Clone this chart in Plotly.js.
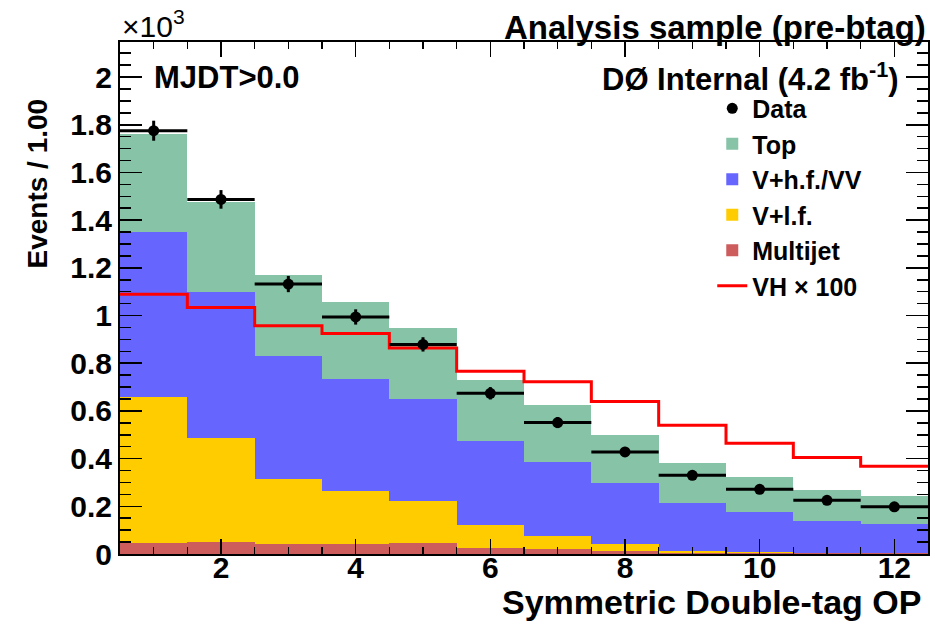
<!DOCTYPE html>
<html>
<head>
<meta charset="utf-8">
<script src="https://cdn.plot.ly/plotly-3.0.1.min.js"></script>
<style>html,body{margin:0;padding:0;background:#fff;}#chart{width:946px;height:622px;}</style>
</head>
<body>
<div id="chart"></div>
<script>
// ---- data (events per bin) ----
const binCenters = [1, 2, 3, 4, 5, 6, 7, 8, 9, 10, 11, 12];
const dataCounts = [1775, 1487, 1132, 994, 879, 674, 551, 428, 330, 271, 225, 198];
const dataErrors = [42, 39, 34, 32, 30, 26, 23, 21, 18, 16, 15, 14];
const multijet   = [45, 50, 40, 42, 46, 24, 20, 13, 6, 4, 3, 3];
const vlf        = [615, 435, 274, 222, 175, 98, 55, 27, 8, 4, 3, 2];
const vhfvv      = [691, 612, 516, 470, 429, 352, 311, 256, 199, 169, 132, 122];
const topBkg     = [410, 379, 340, 324, 299, 256, 239, 202, 170, 146, 130, 115];
const vhx100     = [1089, 1034, 957, 925, 864, 766, 722, 639, 540, 464, 405, 368];

const k = v => v / 1000;  // axis is in units of 10^3
const FONT = "Liberation Sans, Arial, Helvetica, sans-serif";

function barTrace(name, vals, color, rank) {
  return {
    type: 'bar', name: name, x: binCenters, y: vals.map(k), width: 1,
    marker: {color: color, line: {width: 0}},
    legendrank: rank, hoverinfo: 'skip'
  };
}

const binWidth = binCenters[1] - binCenters[0];
const edgesX = binCenters.map(c => c - binWidth / 2).concat([binCenters[binCenters.length - 1] + binWidth / 2]);
const stepY = vhx100.map(k).concat([k(vhx100[vhx100.length - 1])]);

const traces = [
  barTrace('Multijet', multijet, 'rgb(205,92,92)', 5),
  barTrace('V+l.f.', vlf, 'rgb(255,204,0)', 4),
  barTrace('V+h.f./VV', vhfvv, 'rgb(102,102,255)', 3),
  barTrace('Top', topBkg, 'rgb(134,195,167)', 2),
  {
    type: 'scatter', mode: 'lines', name: 'VH \u00d7 100', x: edgesX, y: stepY,
    line: {shape: 'hv', color: 'rgb(255,0,0)', width: 3},
    legendrank: 6, hoverinfo: 'skip'
  },
  {
    type: 'scatter', mode: 'markers', name: 'Data', x: binCenters, y: dataCounts.map(k),
    marker: {color: 'black', size: 11},
    error_y: {type: 'data', array: dataErrors.map(k), color: 'black', thickness: 3, width: 0},
    error_x: {type: 'constant', value: binWidth / 2, color: 'black', thickness: 3, width: 0},
    legendrank: 1, hoverinfo: 'skip'
  }
];

const layout = {
  width: 946, height: 622,
  margin: {l: 120, r: 18, t: 42, b: 68},
  paper_bgcolor: 'white', plot_bgcolor: 'white',
  barmode: 'stack', bargap: 0,
  font: {family: FONT, size: 24, color: 'black', weight: 'bold'},
  showlegend: true,
  legend: {
    x: 0.733, y: 0.915, xanchor: 'left', yanchor: 'top',
    bgcolor: 'rgba(0,0,0,0)', borderwidth: 0,
    font: {family: FONT, size: 25, color: 'black', weight: 'bold'},
    traceorder: 'normal', itemwidth: 30
  },
  xaxis: {
    range: [0.5, 12.5], dtick: 2, tick0: 0,
    ticks: 'inside', ticklen: 15, tickwidth: 1.5, tickcolor: 'black',
    minor: {dtick: 0.5, ticks: 'inside', ticklen: 7, tickwidth: 1.5, tickcolor: 'black', showgrid: false},
    showline: true, linecolor: 'black', linewidth: 2, mirror: 'allticks',
    showgrid: false, zeroline: false,
    ticklabelposition: 'outside', ticklabelstandoff: -14,
    tickfont: {family: FONT, size: 30, color: 'black', weight: 'bold'}
  },
  yaxis: {
    range: [0, 2.147], dtick: 0.2, tick0: 0,
    ticks: 'inside', ticklen: 22, tickwidth: 1.5, tickcolor: 'black',
    minor: {dtick: 0.05, ticks: 'inside', ticklen: 11, tickwidth: 1.5, tickcolor: 'black', showgrid: false},
    showline: true, linecolor: 'black', linewidth: 2, mirror: 'allticks',
    showgrid: false, zeroline: false,
    tickfont: {family: FONT, size: 30, color: 'black', weight: 'bold'}
  },
  annotations: [
    {xref: 'paper', yref: 'paper', x: 1.0, y: 1.029, xanchor: 'right', yanchor: 'middle',
     text: 'Analysis sample (pre-btag)', showarrow: false,
     font: {family: FONT, size: 33, color: 'black', weight: 'bold'}},
    {xref: 'paper', yref: 'paper', x: 0.0, y: 1.0, xanchor: 'left', yanchor: 'bottom', yshift: -3,
     text: '\u00d710<sup>3</sup>', showarrow: false,
     font: {family: FONT, size: 30, color: 'black', weight: 'normal'}},
    {xref: 'paper', yref: 'paper', x: 0.04, y: 0.931, xanchor: 'left', yanchor: 'middle',
     text: 'MJDT>0.0', showarrow: false,
     font: {family: FONT, size: 31, color: 'black', weight: 'bold'}},
    {xref: 'paper', yref: 'paper', x: 0.966, y: 0.931, xanchor: 'right', yanchor: 'middle',
     text: 'D\u00d8 Internal (4.2 fb<sup>-1</sup>)', showarrow: false,
     font: {family: FONT, size: 31, color: 'black', weight: 'bold'}},
    {xref: 'paper', yref: 'paper', x: 0.994, y: 0, xanchor: 'right', yanchor: 'top', yshift: -27,
     text: 'Symmetric Double-tag OP', showarrow: false,
     font: {family: FONT, size: 34, color: 'black', weight: 'bold'}},
    {xref: 'paper', yref: 'paper', x: 0, y: 1.0, xanchor: 'right', yanchor: 'top', xshift: -66, yshift: -55,
     text: 'Events / 1.00', textangle: -90, showarrow: false,
     font: {family: FONT, size: 28, color: 'black', weight: 'bold'}}
  ]
};

Plotly.newPlot('chart', traces, layout, {displayModeBar: false, staticPlot: true});
</script>
</body>
</html>
